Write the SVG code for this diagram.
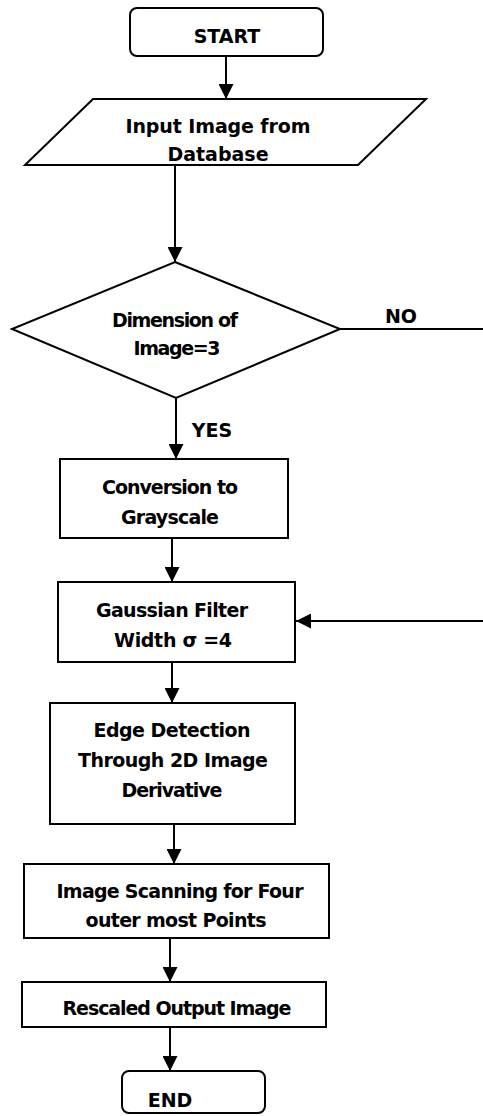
<svg xmlns="http://www.w3.org/2000/svg" width="483" height="1116" viewBox="0 0 483 1116">
  <style>
    .shape { fill: #ffffff; stroke: #000000; stroke-width: 2; }
    .line { fill: none; stroke: #000000; stroke-width: 2; }
    .label { font-family: "DejaVu Sans", "Liberation Sans", sans-serif; font-weight: bold; font-size: 19px; fill: #000000; text-anchor: middle; }
  </style>
  <defs>
    <marker id="arrow" viewBox="0 0 15 15" refX="15" refY="7.5" markerWidth="15" markerHeight="15" markerUnits="userSpaceOnUse" orient="auto">
      <path d="M0,0 L15,7.5 L0,15 Z" fill="#000000"/>
    </marker>
  </defs>
  <rect width="483" height="1116" fill="#ffffff"/>

  <!-- connectors -->
  <g id="connectors">
    <line class="line" x1="226" y1="56" x2="226" y2="99" marker-end="url(#arrow)"/>
    <line class="line" x1="175" y1="165" x2="175" y2="262" marker-end="url(#arrow)"/>
    <line class="line" x1="340" y1="329" x2="483" y2="329"/>
    <text class="label" x="401" y="323">NO</text>
    <line class="line" x1="176" y1="398" x2="176" y2="459" marker-end="url(#arrow)"/>
    <text class="label" x="212" y="437">YES</text>
    <line class="line" x1="172" y1="538" x2="172" y2="582" marker-end="url(#arrow)"/>
    <line class="line" x1="483" y1="621" x2="296" y2="621" marker-end="url(#arrow)"/>
    <line class="line" x1="172" y1="662" x2="172" y2="703" marker-end="url(#arrow)"/>
    <line class="line" x1="174" y1="824" x2="174" y2="864" marker-end="url(#arrow)"/>
    <line class="line" x1="170" y1="938" x2="170" y2="982" marker-end="url(#arrow)"/>
    <line class="line" x1="170" y1="1027" x2="170" y2="1071" marker-end="url(#arrow)"/>
  </g>

  <g id="start">
    <rect class="shape" x="130" y="8" width="193" height="48" rx="7"/>
    <text class="label" x="227" y="43">START</text>
  </g>

  <g id="input">
    <polygon class="shape" points="93,99 426,99 358,165 25,165"/>
    <text class="label" x="218" y="133" textLength="185" lengthAdjust="spacing">Input Image from</text>
    <text class="label" x="218" y="161">Database</text>
  </g>

  <g id="decision">
    <polygon class="shape" points="175,262 340,329 176,398 12,329"/>
    <text class="label" x="175" y="327" textLength="126" lengthAdjust="spacing">Dimension of</text>
    <text class="label" x="177" y="355" textLength="87" lengthAdjust="spacing">Image=3</text>
  </g>

  <g id="grayscale">
    <rect class="shape" x="60" y="459" width="228" height="79"/>
    <text class="label" x="170" y="494" textLength="136" lengthAdjust="spacing">Conversion to</text>
    <text class="label" x="170" y="524" textLength="98" lengthAdjust="spacing">Grayscale</text>
  </g>

  <g id="gaussian">
    <rect class="shape" x="58" y="582" width="237" height="80"/>
    <text class="label" x="172" y="617" textLength="152" lengthAdjust="spacing">Gaussian Filter</text>
    <text class="label" x="173" y="647" textLength="118" lengthAdjust="spacing">Width σ =4</text>
  </g>

  <g id="edge">
    <rect class="shape" x="50" y="703" width="245" height="121"/>
    <text class="label" x="172" y="737" textLength="157" lengthAdjust="spacing">Edge Detection</text>
    <text class="label" x="173" y="767" textLength="190" lengthAdjust="spacing">Through 2D Image</text>
    <text class="label" x="172" y="797" textLength="101" lengthAdjust="spacing">Derivative</text>
  </g>

  <g id="scanning">
    <rect class="shape" x="24" y="864" width="305" height="74"/>
    <text class="label" x="180" y="898" textLength="247" lengthAdjust="spacing">Image Scanning for Four</text>
    <text class="label" x="176" y="927" textLength="181" lengthAdjust="spacing">outer most Points</text>
  </g>

  <g id="rescaled">
    <rect class="shape" x="22" y="982" width="304" height="45"/>
    <text class="label" x="177" y="1015" textLength="229" lengthAdjust="spacing">Rescaled Output Image</text>
  </g>

  <g id="end">
    <rect class="shape" x="122" y="1071" width="143" height="42" rx="7"/>
    <text class="label" x="170" y="1107">END</text>
  </g>
</svg>
